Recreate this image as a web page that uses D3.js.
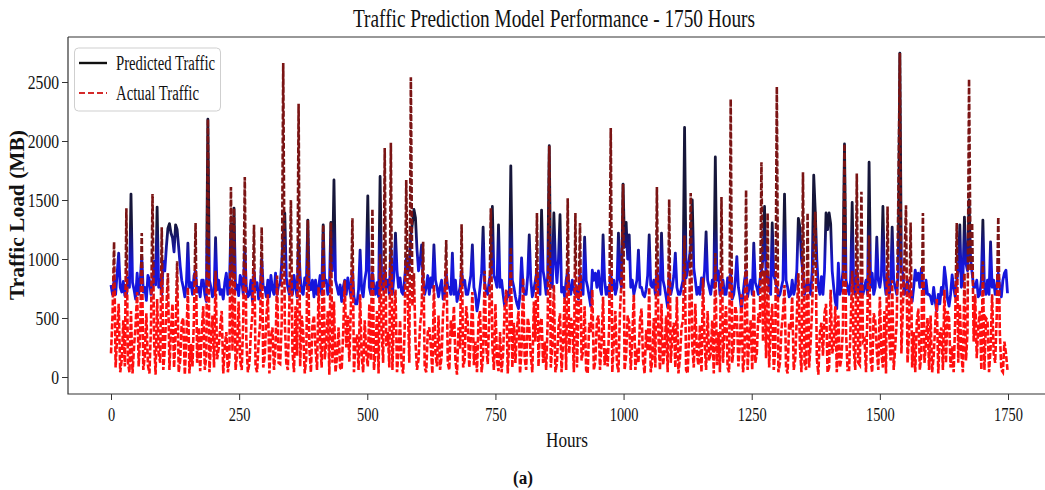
<!DOCTYPE html>
<html>
<head>
<meta charset="utf-8">
<script src="https://cdn.jsdelivr.net/npm/d3@7"></script>
<style>
  body { margin: 0; background: #fff; }
  svg { display: block; }
  text { font-family: "Liberation Serif", "Times New Roman", serif; fill: #111; }
</style>
</head>
<body>
<svg id="chart"></svg>
<script>
const width = 1045,
    height = 490;

// hours between the sampled points
const hourStep = 3;

// Predicted traffic (MB), one value every 3 hours (0 .. 1749)
const predicted = [
    780, 700, 820, 700, 880, 1050, 760, 720, 810, 690,
    690, 840, 760, 1550, 800, 740, 660, 880, 700, 820,
    1020, 720, 760, 650, 860, 820, 700, 760, 980, 780,
    1440, 760, 820, 700, 980, 900, 1100, 1260, 1300, 1220,
    1180, 1060, 1290, 1250, 1100, 940, 820, 760, 680, 780,
    1135, 760, 800, 700, 860, 900, 720, 760, 680, 820,
    820, 700, 640, 2185, 820, 760, 680, 700, 1180, 740,
    820, 700, 740, 660, 800, 880, 700, 760, 1300, 860,
    1430, 740, 780, 690, 860, 820, 700, 1100, 760, 680,
    700, 820, 640, 900, 740, 800, 660, 720, 1000, 760,
    760, 680, 820, 680, 860, 740, 700, 880, 700, 780,
    780, 960, 1200, 1390, 840, 760, 700, 820, 700, 860,
    760, 680, 1150, 860, 720, 700, 840, 780, 1330, 760,
    740, 820, 680, 820, 700, 760, 860, 700, 1290, 800,
    820, 700, 740, 1310, 900, 1670, 820, 760, 700, 780,
    640, 760, 820, 700, 840, 760, 680, 900, 680, 620,
    620, 740, 1075, 740, 680, 820, 900, 1535, 760, 700,
    880, 760, 700, 800, 680, 1700, 800, 740, 900, 760,
    820, 700, 1100, 700, 860, 1220, 900, 760, 840, 720,
    700, 840, 1000, 880, 960, 1200, 1300, 1420, 1350, 1080,
    900, 980, 1120, 800, 700, 760, 860, 700, 840, 760,
    1120, 820, 760, 680, 760, 820, 660, 700, 880, 760,
    760, 700, 1050, 700, 820, 640, 700, 760, 900, 780,
    820, 700, 700, 780, 860, 1120, 760, 700, 560, 640,
    760, 880, 1270, 800, 720, 700, 820, 880, 1445, 860,
    820, 760, 1290, 760, 820, 700, 600, 640, 720, 680,
    1790, 820, 760, 680, 620, 580, 700, 1010, 760, 700,
    700, 860, 1205, 820, 680, 740, 820, 900, 760, 700,
    1415, 900, 820, 700, 860, 1960, 800, 760, 1390, 980,
    800, 1000, 1375, 720, 760, 680, 820, 900, 760, 700,
    820, 740, 700, 760, 660, 880, 760, 700, 1185, 820,
    760, 680, 600, 905, 820, 880, 760, 900, 760, 700,
    1205, 820, 700, 760, 680, 880, 740, 820, 700, 760,
    1220, 820, 760, 1635, 1100, 1310, 1000, 1205, 760, 820,
    700, 760, 820, 1075, 760, 760, 700, 680, 740, 860,
    1205, 780, 760, 820, 700, 900, 760, 700, 1220, 820,
    760, 680, 590, 880, 700, 760, 860, 1050, 760, 700,
    700, 760, 820, 2115, 840, 900, 1000, 1100, 1500, 920,
    820, 700, 760, 700, 840, 760, 900, 1230, 820, 760,
    700, 820, 760, 1865, 820, 900, 700, 760, 820, 700,
    700, 840, 760, 880, 660, 700, 820, 1020, 760, 680,
    570, 700, 820, 900, 680, 760, 820, 700, 1135, 800,
    760, 700, 820, 900, 1000, 1445, 820, 880, 760, 700,
    1305, 860, 820, 760, 680, 700, 760, 820, 1550, 820,
    760, 680, 700, 820, 700, 760, 900, 1345, 1270, 1000,
    880, 700, 760, 820, 760, 700, 900, 1710, 1400, 1000,
    760, 700, 850, 700, 900, 1390, 1250, 1390, 1300, 900,
    760, 640, 580, 965, 700, 760, 900, 1975, 820, 760,
    700, 820, 1480, 760, 700, 900, 760, 700, 820, 700,
    760, 820, 700, 1820, 760, 880, 700, 760, 1185, 820,
    760, 860, 1445, 820, 700, 880, 700, 760, 1270, 820,
    760, 700, 900, 2745, 900, 880, 700, 760, 820, 700,
    700, 640, 760, 905, 820, 880, 760, 920, 760, 700,
    820, 700, 700, 680, 620, 760, 640, 560, 700, 620,
    760, 700, 930, 820, 660, 600, 700, 865, 760, 680,
    820, 900, 1290, 760, 820, 1355, 960, 900, 1500, 1000,
    880, 760, 760, 820, 680, 700, 820, 1330, 760, 700,
    820, 700, 1145, 760, 820, 700, 760, 880, 760, 680,
    820, 880, 905, 710
];

// Actual traffic (MB), same hours
const actual = [
    200, 520, 1145, 80, 360, 620, 40, 150, 480, 90,
    1430, 120, 40, 560, 30, 260, 440, 720, 90, 380,
    1220, 60, 180, 540, 100, 30, 420, 1550, 320, 20,
    660, 200, 120, 1270, 60, 240, 580, 880, 60, 400,
    620, 80, 350, 980, 40, 140, 460, 500, 20, 320,
    760, 30, 280, 90, 540, 1305, 120, 420, 50, 380,
    600, 60, 180, 2185, 40, 300, 520, 80, 900, 150,
    240, 420, 560, 30, 260, 380, 40, 150, 1610, 220,
    1430, 60, 200, 640, 140, 60, 480, 1695, 320, 40,
    120, 380, 540, 1290, 90, 40, 300, 460, 1270, 80,
    180, 500, 700, 30, 340, 420, 60, 250, 860, 120,
    110, 460, 2660, 480, 120, 60, 620, 1500, 220, 40,
    600, 180, 2315, 90, 520, 380, 30, 160, 1330, 240,
    40, 440, 520, 240, 60, 760, 320, 80, 1290, 150,
    300, 560, 20, 1310, 120, 640, 40, 180, 420, 80,
    60, 380, 820, 250, 520, 130, 600, 1345, 40, 300,
    360, 60, 700, 180, 40, 480, 200, 90, 620, 140,
    1425, 60, 210, 560, 30, 1040, 380, 120, 1940, 260,
    380, 80, 1985, 60, 500, 740, 40, 220, 480, 100,
    30, 420, 1670, 640, 120, 2540, 600, 880, 300, 60,
    150, 440, 560, 1145, 80, 40, 380, 420, 260, 30,
    780, 200, 90, 520, 60, 180, 560, 680, 1160, 120,
    60, 480, 340, 600, 140, 20, 420, 240, 1295, 80,
    150, 600, 460, 80, 340, 720, 100, 300, 40, 480,
    560, 40, 180, 900, 260, 110, 520, 1430, 260, 60,
    620, 140, 50, 380, 40, 200, 580, 740, 30, 320,
    1100, 80, 460, 120, 400, 560, 30, 240, 840, 160,
    60, 500, 420, 180, 40, 640, 300, 1390, 90, 440,
    500, 120, 300, 60, 480, 1960, 80, 260, 780, 40,
    120, 420, 540, 40, 300, 680, 60, 1515, 200, 500,
    460, 40, 1390, 80, 520, 1305, 140, 220, 600, 60,
    30, 460, 380, 740, 60, 140, 480, 520, 60, 280,
    680, 100, 240, 90, 440, 2110, 40, 300, 560, 120,
    40, 560, 820, 1635, 60, 180, 520, 460, 60, 340,
    700, 60, 240, 120, 480, 580, 140, 30, 400, 220,
    760, 40, 140, 500, 80, 1610, 340, 60, 620, 100,
    220, 520, 40, 1505, 120, 340, 460, 80, 680, 30,
    160, 420, 480, 1200, 60, 30, 380, 1560, 260, 80,
    620, 200, 100, 440, 40, 840, 300, 60, 560, 140,
    200, 480, 30, 1050, 100, 380, 40, 1525, 120, 420,
    600, 80, 40, 2355, 120, 260, 600, 520, 90, 300,
    700, 40, 180, 1585, 60, 320, 480, 60, 740, 120,
    200, 540, 460, 1820, 300, 900, 160, 1390, 80, 420,
    620, 60, 240, 2460, 40, 120, 400, 540, 780, 80,
    30, 460, 400, 680, 60, 160, 520, 880, 260, 40,
    1735, 120, 60, 1390, 80, 300, 600, 1100, 1400, 160,
    20, 380, 460, 180, 540, 620, 40, 80, 740, 200,
    260, 600, 40, 520, 80, 160, 420, 1975, 380, 60,
    60, 440, 900, 240, 60, 1725, 120, 100, 1570, 300,
    320, 40, 600, 1200, 140, 40, 540, 480, 220, 60,
    680, 200, 80, 560, 30, 1445, 380, 140, 820, 60,
    260, 480, 1500, 2745, 200, 600, 1000, 1455, 120, 380,
    1310, 80, 380, 40, 460, 580, 60, 200, 1390, 120,
    300, 500, 60, 520, 40, 180, 440, 660, 30, 360,
    420, 60, 740, 120, 560, 500, 80, 260, 40, 480,
    1305, 120, 620, 200, 40, 880, 140, 380, 2525, 900,
    1305, 300, 700, 160, 420, 560, 60, 980, 60, 500,
    480, 40, 240, 700, 200, 120, 520, 1355, 380, 60,
    40, 300, 200, 60
];

const xTicks = [0, 250, 500, 750, 1000, 1250, 1500, 1750];
const yTicks = [0, 500, 1000, 1500, 2000, 2500];

// frame of the axes (right spine falls outside the window)
const frame = { left: 68, top: 37, bottom: 394, right: 1053 };

const x = d3.scaleLinear().domain([0, 1750]).range([111, 1008]);
const y = d3.scaleLinear().domain([0, 2500]).range([377, 82]);

const svg = d3.select("#chart")
    .attr("width", width)
    .attr("height", height);

const defs = svg.append("defs");

// predicted: blue in the band, almost black on the spikes
const pg = defs.append("linearGradient")
    .attr("id", "predGrad")
    .attr("gradientUnits", "userSpaceOnUse")
    .attr("x1", 0).attr("x2", 0)
    .attr("y1", y(1300)).attr("y2", y(950));
pg.append("stop").attr("offset", 0).attr("stop-color", "#16163a");
pg.append("stop").attr("offset", 1).attr("stop-color", "#1616dc");

// actual: bright red low down, dark red on the spikes
const ag = defs.append("linearGradient")
    .attr("id", "actGrad")
    .attr("gradientUnits", "userSpaceOnUse")
    .attr("x1", 0).attr("x2", 0)
    .attr("y1", y(1000)).attr("y2", y(600));
ag.append("stop").attr("offset", 0).attr("stop-color", "#7a1414");
ag.append("stop").attr("offset", 1).attr("stop-color", "#ff0f0f");

defs.append("clipPath").attr("id", "plotClip")
    .append("rect")
    .attr("x", frame.left).attr("y", frame.top)
    .attr("width", frame.right - frame.left)
    .attr("height", frame.bottom - frame.top);

const line = d3.line()
    .x((d, i) => x(i * hourStep))
    .y(d => y(d));

const plot = svg.append("g").attr("clip-path", "url(#plotClip)");

plot.append("path")
    .datum(predicted)
    .attr("d", line)
    .attr("fill", "none")
    .attr("stroke", "url(#predGrad)")
    .attr("stroke-width", 2.8)
    .attr("stroke-linejoin", "round");

plot.append("path")
    .datum(actual)
    .attr("d", line)
    .attr("fill", "none")
    .attr("stroke", "url(#actGrad)")
    .attr("stroke-width", 2.6)
    .attr("stroke-dasharray", "6,2");

// spines
const spine = svg.append("g")
    .attr("stroke", "#333")
    .attr("stroke-width", 1.2)
    .attr("fill", "none");
spine.append("path")
    .attr("d", `M${frame.left},${frame.top}H${frame.right}M${frame.left},${frame.top}V${frame.bottom}H${frame.right}`);

// axes
const yAxis = svg.append("g")
    .attr("transform", `translate(${frame.left},0)`)
    .call(d3.axisLeft(y).tickValues(yTicks).tickFormat(d3.format("d")).tickSize(6).tickPadding(3));
yAxis.select(".domain").remove();
yAxis.selectAll("line").attr("stroke", "#333");
yAxis.selectAll("text")
    .style("font-family", "'Liberation Serif', serif")
    .style("font-size", "19px")
    .attr("fill", "#111")
    .attr("textLength", d => String(d).length * 7.8)
    .attr("lengthAdjust", "spacingAndGlyphs");

const xAxis = svg.append("g")
    .attr("transform", `translate(0,${frame.bottom})`)
    .call(d3.axisBottom(x).tickValues(xTicks).tickFormat(d3.format("d")).tickSize(6).tickPadding(8));
xAxis.select(".domain").remove();
xAxis.selectAll("line").attr("stroke", "#333");
xAxis.selectAll("text")
    .style("font-family", "'Liberation Serif', serif")
    .style("font-size", "19px")
    .attr("fill", "#111")
    .attr("textLength", d => String(d).length * 7.2)
    .attr("lengthAdjust", "spacingAndGlyphs");

// titles
svg.append("text")
    .attr("x", 554).attr("y", 27)
    .attr("text-anchor", "middle")
    .style("font-size", "25px")
    .attr("textLength", 402)
    .attr("lengthAdjust", "spacingAndGlyphs")
    .text("Traffic Prediction Model Performance - 1750 Hours");

svg.append("text")
    .attr("transform", "translate(24,215) rotate(-90)")
    .attr("text-anchor", "middle")
    .style("font-size", "20px")
    .style("font-weight", "bold")
    .attr("textLength", 170)
    .attr("lengthAdjust", "spacingAndGlyphs")
    .text("Traffic Load (MB)");

svg.append("text")
    .attr("x", 567).attr("y", 447)
    .attr("text-anchor", "middle")
    .style("font-size", "20px")
    .attr("textLength", 42)
    .attr("lengthAdjust", "spacingAndGlyphs")
    .text("Hours");

svg.append("text")
    .attr("x", 523).attr("y", 484)
    .attr("text-anchor", "middle")
    .style("font-size", "18px")
    .style("font-weight", "bold")
    .attr("textLength", 20)
    .attr("lengthAdjust", "spacingAndGlyphs")
    .text("(a)");

// legend
const legend = svg.append("g");
legend.append("rect")
    .attr("x", 74.5).attr("y", 48)
    .attr("width", 146).attr("height", 63)
    .attr("rx", 4)
    .attr("fill", "#fff").attr("fill-opacity", 0.85)
    .attr("stroke", "#cfcfcf");
legend.append("line")
    .attr("x1", 79).attr("x2", 107).attr("y1", 63).attr("y2", 63)
    .attr("stroke", "#111").attr("stroke-width", 2.4);
legend.append("line")
    .attr("x1", 79).attr("x2", 107).attr("y1", 93).attr("y2", 93)
    .attr("stroke", "#d42a2a").attr("stroke-width", 2.2)
    .attr("stroke-dasharray", "6,3");
legend.append("text")
    .attr("x", 116).attr("y", 70)
    .style("font-size", "20px")
    .attr("textLength", 99)
    .attr("lengthAdjust", "spacingAndGlyphs")
    .text("Predicted Traffic");
legend.append("text")
    .attr("x", 116).attr("y", 100)
    .style("font-size", "20px")
    .attr("textLength", 83)
    .attr("lengthAdjust", "spacingAndGlyphs")
    .text("Actual Traffic");
</script>
</body>
</html>
